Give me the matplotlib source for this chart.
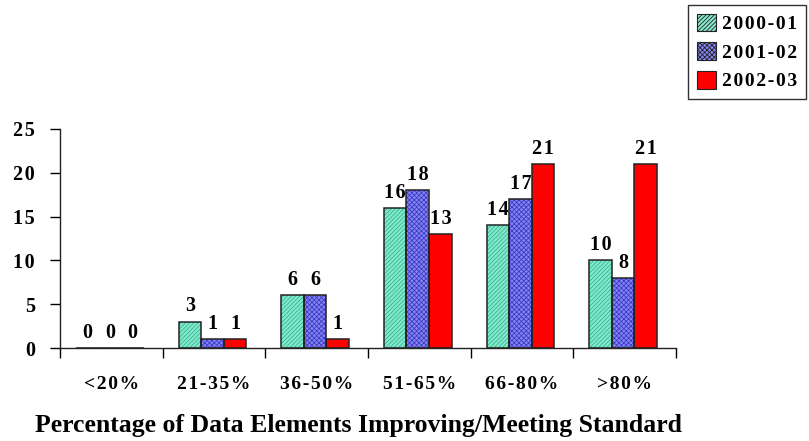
import numpy as np
import matplotlib
matplotlib.use("Agg")
import matplotlib.pyplot as plt
from matplotlib.patches import Patch

plt.rcParams['font.family'] = ['Liberation Serif', 'DejaVu Serif']
plt.rcParams['font.weight'] = 'bold'
plt.rcParams['hatch.linewidth'] = 0.6

categories = ['<20%', '21-35%', '36-50%', '51-65%', '66-80%', '>80%']
years = ['2000-01', '2001-02', '2002-03']
v_2000 = [0, 3, 6, 16, 14, 10]
v_2001 = [0, 1, 6, 18, 17, 8]
v_2002 = [0, 1, 1, 13, 21, 21]
yticks = [0, 5, 10, 15, 20, 25]

series = [v_2000, v_2001, v_2002]
faces = ['#86E8CC', '#8484F4', '#FF0000']
hatch_cols = ['#2FB890', '#3C3CC4', '#FF0000']
hatches = ['////////', 'xxxxxxx', None]

HAIR = '\u200a'


def spaced(s):
    # wide letter spacing, as in the printed report
    return HAIR.join(s)


fig = plt.figure(figsize=(8.09, 4.41), dpi=100)
ax = fig.add_axes([60 / 809, 1 - 348 / 441, 616 / 809, 219 / 441])

x = np.arange(len(categories))
w = 0.22
for i, vals in enumerate(series):
    pos = x + (i - 1) * w - 0.015
    ax.bar(pos, vals, w, color=faces[i], edgecolor=hatch_cols[i],
           hatch=hatches[i], linewidth=0, zorder=2)
    # outline drawn separately so the hatch colour can differ from the edge
    ax.bar(pos, vals, w, fill=False, edgecolor='#222222', linewidth=1.1, zorder=3)
    for xp, v in zip(pos, vals):
        ax.text(xp, v + 0.6, spaced(str(v)), ha='center', va='bottom',
                fontsize=14.5, fontweight='bold')

ax.set_xlim(-0.5, len(categories) - 0.5)
ax.set_ylim(0, 25)
ax.set_yticks(yticks)
ax.set_yticklabels([spaced(str(t)) for t in yticks])
ax.set_xticks(x)
ax.set_xticklabels([spaced(c) for c in categories])
ax.set_xticks(np.arange(len(categories) + 1) - 0.5, minor=True)
ax.tick_params(axis='x', which='major', length=0, pad=20, labelsize=14)
ax.tick_params(axis='x', which='minor', length=7, width=1, direction='out')
ax.tick_params(axis='y', length=7, width=1, pad=11, labelsize=14.5)
for lab in ax.get_xticklabels() + ax.get_yticklabels():
    lab.set_fontweight('bold')

for s in ['top', 'right']:
    ax.spines[s].set_visible(False)
for s in ['left', 'bottom']:
    ax.spines[s].set_linewidth(1)
    ax.spines[s].set_color('#222222')

ax.set_xlabel('Percentage of Data Elements Improving/Meeting Standard',
              fontsize=18.5, fontweight='bold')
ax.xaxis.set_label_coords(0.485, -0.30)

handles = [Patch(facecolor=faces[i], edgecolor='#222222', hatch=hatches[i],
                 linewidth=0.8) for i in range(3)]
leg = fig.legend(handles, [spaced(y) for y in years], loc='upper left',
                 bbox_to_anchor=(688 / 809, 1 - 5 / 441),
                 frameon=True, fancybox=False, edgecolor='black',
                 prop={'size': 14, 'weight': 'bold'},
                 handlelength=1.0, handleheight=1.0, handletextpad=0.3,
                 labelspacing=0.48, borderpad=0.45, borderaxespad=0)
leg.get_frame().set_linewidth(1)

fig.savefig('out.png', dpi=100)
